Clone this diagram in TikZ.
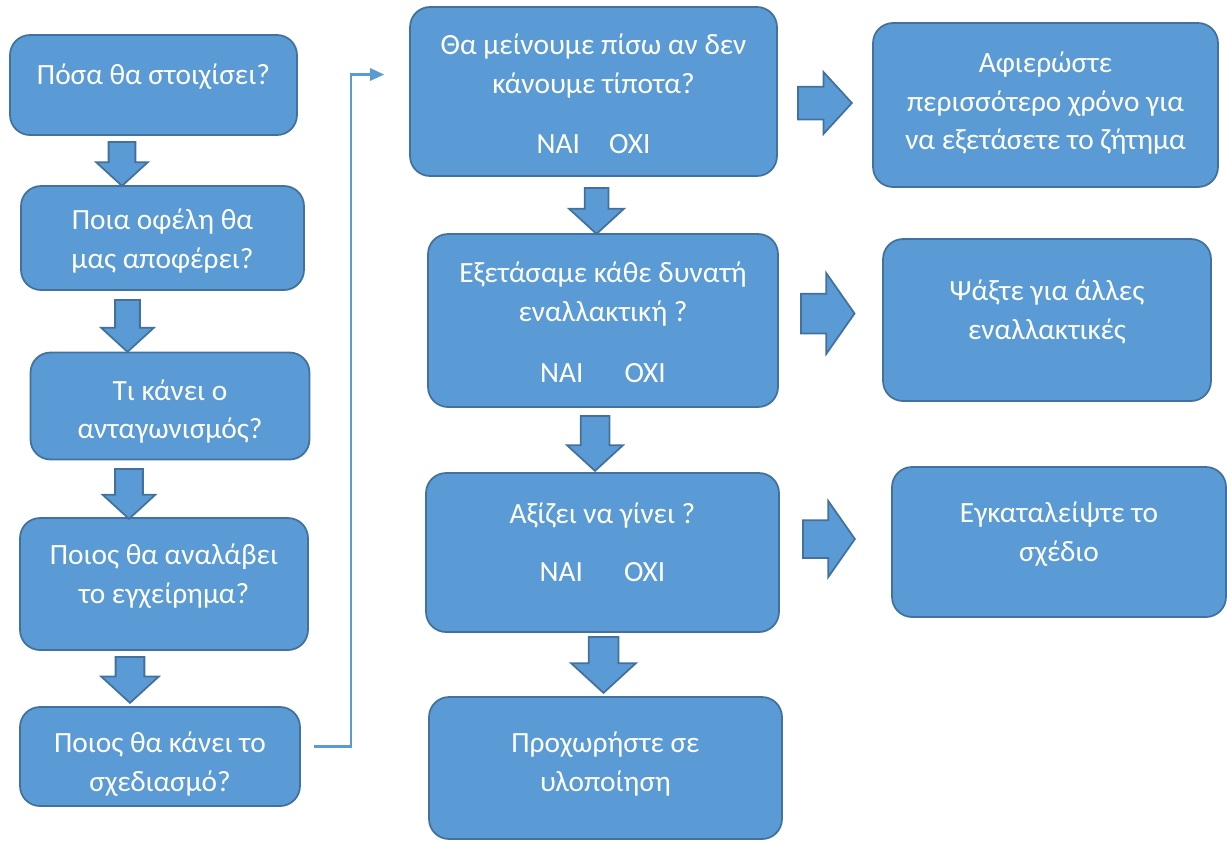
\documentclass[tikz,border=0pt]{standalone}
\usepackage{fontspec}
\setmainfont{Carlito}
\usetikzlibrary{arrows.meta,positioning,calc,shapes.arrows}

\definecolor{boxfill}{HTML}{5B9BD5}
\definecolor{boxline}{HTML}{41719C}

\begin{document}
\begin{tikzpicture}[
    x=0.02cm, y=-0.02cm,
    box/.style={draw=boxline, fill=boxfill, line width=1pt, rounded corners=0.4cm, inner sep=0pt},
    txt/.style={text=white, align=center, inner sep=0pt, font=\fontsize{16.7}{22}\selectfont, execute at begin node=\strut},
    barrow/.style={single arrow, draw=boxline, fill=boxfill, line width=1pt, single arrow tip angle=95},
    darrow/.style n args={3}{barrow, shape border rotate=270, minimum height=#1, inner sep=#2, single arrow head extend=#3, anchor=tail},
    rarrow/.style n args={3}{barrow, minimum height=#1, inner sep=#2, single arrow head extend=#3, anchor=tail},
    link/.style={draw=boxfill, line width=1.2pt, -{Triangle[length=8pt,width=7pt]}}
  ]
    \useasboundingbox (0,0) rectangle (1227,840);

    % Αριστερή στήλη
    \node[box, minimum width=5.74cm, minimum height=2.00cm] (b1) at (153.5,85) {};
    \node[box, minimum width=5.66cm, minimum height=2.08cm] (b2) at (162.5,238) {};
    \node[box, minimum width=5.58cm, minimum height=2.14cm] (b3) at (170,406) {};
    \node[box, minimum width=5.76cm, minimum height=2.64cm] (b4) at (164,584) {};
    \node[box, minimum width=5.60cm, minimum height=1.98cm] (b5) at (160,756.5) {};

    \node[txt, below=0.45cm of b1.north] (b1t) {Πόσα θα στοιχίσει?};
    \node[txt, below=0.47cm of b2.north] (b2t) {Ποια οφέλη θα\\μας αποφέρει?};
    \node[txt, below=0.55cm of b3.north] (b3t) {Τι κάνει ο\\ανταγωνισμός?};
    \node[txt, below=0.53cm of b4.north] (b4t) {Ποιος θα αναλάβει\\το εγχείρημα?};
    \node[txt, below=0.51cm of b5.north] (b5t) {Ποιος θα κάνει το\\σχεδιασμό?};

    \node[darrow={0.88cm}{0.25cm}{0.25cm}] (a1) at (122,141) {};
    \node[darrow={1.04cm}{0.23cm}{0.28cm}] (a2) at (127.5,299) {};
    \node[darrow={1.00cm}{0.26cm}{0.25cm}] (a3) at (129,468) {};
    \node[darrow={0.92cm}{0.27cm}{0.29cm}] (a4) at (130,656) {};

    % Μεσαία στήλη
    \node[box, minimum width=7.34cm, minimum height=3.38cm] (m1) at (593.5,91.5) {};
    \node[box, minimum width=7.00cm, minimum height=3.46cm] (m2) at (603,320.5) {};
    \node[box, minimum width=7.06cm, minimum height=3.18cm] (m3) at (602.5,552.5) {};
    \node[box, minimum width=7.06cm, minimum height=2.84cm] (m4) at (605.5,768) {};

    \node[txt, below=0.55cm of m1.north] (m1t) {Θα μείνουμε πίσω αν δεν\\κάνουμε τίποτα?\\[12pt]ΝΑΙ\hspace{1em}ΟΧΙ};
    \node[txt, below=0.57cm of m2.north] (m2t) {Εξετάσαμε κάθε δυνατή\\εναλλακτική ?\\[13pt]ΝΑΙ\hspace{1.4em}ΟΧΙ};
    \node[txt, below=0.61cm of m3.north] (m3t) {Αξίζει να γίνει ?\\[11pt]ΝΑΙ\hspace{1.4em}ΟΧΙ};
    \node[txt, below=0.71cm of m4.north] (m4t) {Προχωρήστε σε\\υλοποίηση};

    \node[darrow={0.92cm}{0.22cm}{0.31cm}] (am1) at (596.5,187) {};
    \node[darrow={1.10cm}{0.27cm}{0.27cm}] (am2) at (595,415) {};
    \node[darrow={1.12cm}{0.28cm}{0.35cm}] (am3) at (603.5,636) {};

    % Δεξιά στήλη
    \node[box, minimum width=6.90cm, minimum height=3.28cm] (r1) at (1045.5,105) {};
    \node[box, minimum width=6.56cm, minimum height=3.24cm] (r2) at (1047,320) {};
    \node[box, minimum width=6.68cm, minimum height=3.00cm] (r3) at (1059,542) {};

    \node[txt, below=0.59cm of r1.north] (r1t) {Αφιερώστε\\περισσότερο χρόνο για\\να εξετάσετε το ζήτημα};
    \node[txt, below=0.83cm of r2.north] (r2t) {Ψάξτε για άλλες\\εναλλακτικές};
    \node[txt, below=0.71cm of r3.north] (r3t) {Εγκαταλείψτε το\\σχέδιο};

    \node[rarrow={1.08cm}{0.31cm}{0.29cm}] (ar1) at (797,103) {};
    \node[rarrow={1.02cm}{0.38cm}{0.41cm}, single arrow tip angle=110] (ar2) at (800,313.5) {};
    \node[rarrow={1.04cm}{0.36cm}{0.38cm}, single arrow tip angle=110] (ar3) at (802,539) {};

    % Σύνδεση
    \coordinate (linkstart) at ($(b5.east)+(13,-10)$);
    \coordinate (linkend) at ($(m1.west)+(-25,-17)$);
    \draw[link] (linkstart) -- ++(37,0) |- (linkend);
  \end{tikzpicture}
\end{document}
